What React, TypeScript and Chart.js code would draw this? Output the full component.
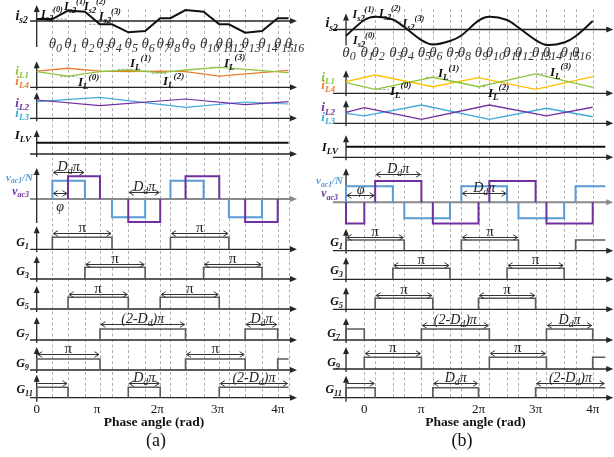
import React, { useEffect, useRef } from 'react';
import { Chart, registerables } from 'chart.js';

Chart.register(...registerables);

const W = 614;
const H = 457;
const SERIF = '"Liberation Serif", "Times New Roman", serif';

const BLACK = '#111111';
const AXIS = '#262626';
const GATE = '#5a5a5a';
const GRID = '#a8a8a8';
const GREEN = '#8cc63f';
const ORANGE = '#ed7d31';
const YELLOW = '#ffc000';
const PURPLE = '#7030a0';
const CYAN = '#41a9dc';
const BLUE = '#5b9bd5';

// θ instants of each panel, phase in units of π
const thetaA = [0.26, 0.52, 0.8, 1.05, 1.25, 1.52, 1.8, 2.05, 2.22, 2.47, 2.77, 3.03, 3.19, 3.46, 3.74, 4.0, 4.18];
const thetaB = [-0.32, 0, 0.19, 0.5, 0.7, 1.0, 1.2, 1.5, 1.7, 2.0, 2.19, 2.5, 2.7, 3.0, 3.19, 3.5, 3.7, 4.0];
const tA = (i: number) => thetaA[i];
const tB = (i: number) => thetaB[i];
const spanA = [0, 4.18];
const spanB = [-0.32, 4.22];

const thetaLabels = ['θ_{0}', 'θ_{1}', 'θ_{2}', 'θ_{3}', 'θ_{4}', 'θ_{5}', 'θ_{6}', 'θ_{7}', 'θ_{8}', 'θ_{9}', 'θ_{10}', 'θ_{11}', 'θ_{12}', 'θ_{13}', 'θ_{14}', 'θ_{15}', 'θ_{16}'];
const phaseTicks = [0, 1, 2, 3, 4];
const phaseTickLabels = ['0', 'π', '2π', '3π', '4π'];

// secondary current i_s2 — (a): origin then θ0…θ16, (b): θ0…θ17
const is2XA = [0, ...thetaA];
const is2A = [0.18, 0.18, 0.95, 0.85, -0.3, -0.3, -1.03, -0.91, 0.25, 0.25, 1.0, 0.85, -0.3, -0.3, -1.06, -0.91, 0.25, 0.25];
const is2B = [-0.48, 0.73, 0.98, 0.77, 0.19, -0.81, -1.15, -0.88, -0.46, 0.68, 0.98, 0.73, 0.15, -0.81, -1.19, -1.0, -0.52, 0.65];

// inductor currents
const iL14XA = [0, tA(1), tA(3), tA(5), tA(7), tA(9), tA(11), tA(16)];
const iL1A = [1.0, 0.72, 1.0, 1.11, 0.94, 1.11, 1.28, 0.94];
const iL4A = [1.04, 1.22, 1.04, 1.0, 1.04, 1.0, 0.72, 1.09];
const iL23XA = [0, tA(3), tA(9), tA(13), tA(16)];
const iL2A = [1.09, 0.75, 1.15, 0.81, 0.99];
const iL3A = [0.99, 1.24, 0.65, 0.97, 0.85];

const iL14XB = [tB(0), tB(2), tB(6), tB(9), tB(13), tB(17)];
const iL1B = [0.94, 0.35, 1.42, 0.58, 1.71, 0.53];
const iL4B = [1.03, 1.62, 0.58, 1.38, 0.35, 1.47];
const iL23XB = [tB(0), tB(1), tB(5), tB(10), tB(14), tB(17)];
const iL2B = [0.97, 1.38, 0.35, 1.62, 0.65, 1.42];
const iL3B = [0.88, 0.65, 1.62, 0.35, 1.33, 0.58];

const iLVA = [1, 1];
const iLVB = [1, 1];

// bridge voltages: [from, to, level]
type Pulse = [number, number, number];
type Span = [number, number];
const vac1A: Pulse[] = [[tA(0), tA(2), 1], [tA(4), tA(6), -1], [tA(8), tA(10), 1], [tA(12), tA(14), -1]];
const vac3A: Pulse[] = [[tA(1), tA(3), 1.25], [tA(5), tA(7), -1.25], [tA(9), tA(11), 1.25], [tA(13), tA(15), -1.25]];
const vac1B: Pulse[] = [[tB(0), tB(3), 1], [tB(4), tB(7), -1], [tB(8), tB(11), 1], [tB(12), tB(15), -1], [tB(16), spanB[1], 1]];
const vac3B: Pulse[] = [[tB(0), tB(1), -1.33], [tB(2), tB(5), 1.33], [tB(6), tB(9), -1.33], [tB(10), tB(13), 1.33], [tB(14), tB(17), -1.33]];

// gate signals: on-intervals
const g1A: Span[] = [[tA(0), tA(4)], [tA(8), tA(12)]];
const g3A: Span[] = [[tA(2), tA(6)], [tA(10), tA(14)]];
const g5A: Span[] = [[tA(1), tA(5)], [tA(7), tA(11)]];
const g7A: Span[] = [[tA(3), tA(9)], [tA(13), tA(15)]];
const g9A: Span[] = [[0, tA(3)], [tA(9), tA(13)], [tA(15), tA(16)]];
const g11A: Span[] = [[0, tA(1)], [tA(5), tA(7)], [tA(11), tA(16)]];
const g1B: Span[] = [[tB(0), tB(4)], [tB(8), tB(12)], [tB(16), spanB[1]]];
const g3B: Span[] = [[tB(3), tB(7)], [tB(11), tB(15)]];
const g5B: Span[] = [[tB(2), tB(6)], [tB(9), tB(13)]];
const g7B: Span[] = [[tB(0), tB(1)], [tB(5), tB(10)], [tB(14), tB(17)]];
const g9B: Span[] = [[tB(1), tB(5)], [tB(10), tB(14)], [tB(17), spanB[1]]];
const g11B: Span[] = [[tB(0), tB(2)], [tB(6), tB(9)], [tB(13), spanB[1]]];

interface RowLayout { id: string; base: number; unit: number; up: number; down: number; gray?: boolean }
const rowsA: RowLayout[] = [
  { id: 'is2', base: 21, unit: 11, up: 16, down: 26 },
  { id: 'iL14', base: 87.3, unit: 15.6, up: 26, down: 3 },
  { id: 'iL23', base: 118.3, unit: 16.8, up: 26, down: 3 },
  { id: 'ILV', base: 154, unit: 11.3, up: 24, down: 3 },
  { id: 'vac', base: 199, unit: 18.3, up: 31, down: 24, gray: true },
  { id: 'G1', base: 249.3, unit: 12, up: 23, down: 3 },
  { id: 'G3', base: 279, unit: 11.7, up: 23, down: 3 },
  { id: 'G5', base: 309, unit: 11.7, up: 23, down: 3 },
  { id: 'G7', base: 340, unit: 11, up: 23, down: 3 },
  { id: 'G9', base: 370, unit: 11, up: 23, down: 3 },
  { id: 'G11', base: 397.7, unit: 10.4, up: 23, down: 4 },
];
const rowsB: RowLayout[] = [
  { id: 'is2', base: 29.5, unit: 13, up: 16, down: 16 },
  { id: 'iL14', base: 93.3, unit: 11.3, up: 23, down: 3 },
  { id: 'iL23', base: 123.3, unit: 11.3, up: 23, down: 3 },
  { id: 'ILV', base: 157.3, unit: 10.5, up: 22, down: 3 },
  { id: 'vac', base: 202.3, unit: 16, up: 34, down: 22, gray: true },
  { id: 'G1', base: 250.7, unit: 10.7, up: 22, down: 3 },
  { id: 'G3', base: 279.3, unit: 11, up: 22, down: 3 },
  { id: 'G5', base: 309.3, unit: 11, up: 22, down: 3 },
  { id: 'G7', base: 340, unit: 11, up: 22, down: 3 },
  { id: 'G9', base: 369, unit: 11.7, up: 22, down: 3 },
  { id: 'G11', base: 397.7, unit: 10, up: 22, down: 4 },
];

interface TextItem { s: string; x: number; y: number; size: number; color?: string }
interface Dim { row: string; from: number; to: number; y: number; s: string; below?: boolean; single?: boolean }
interface Marker { row: string; from: number; to: number; y: number }

const rowLabelsA: TextItem[] = [
  { s: 'i_{s2}', x: 28, y: 19.5, size: 14 },
  { s: 'i_{L1}', x: 29, y: 75, size: 13, color: GREEN },
  { s: 'i_{L4}', x: 29, y: 84.5, size: 13, color: ORANGE },
  { s: 'i_{L2}', x: 29, y: 106.5, size: 13, color: PURPLE },
  { s: 'i_{L3}', x: 29, y: 117, size: 13, color: CYAN },
  { s: 'I_{LV}', x: 31, y: 139, size: 13 },
  { s: 'v_{ac1}/N', x: 33, y: 180.5, size: 11, color: BLUE },
  { s: 'v_{ac3}', x: 29, y: 194.5, size: 11.5, color: PURPLE },
  { s: 'G_{1}', x: 29, y: 245.5, size: 12 },
  { s: 'G_{3}', x: 29, y: 274.5, size: 12 },
  { s: 'G_{5}', x: 29, y: 306, size: 12 },
  { s: 'G_{7}', x: 29, y: 337, size: 12 },
  { s: 'G_{9}', x: 29, y: 367, size: 12 },
  { s: 'G_{11}', x: 33, y: 393, size: 12 },
];
const rowLabelsB: TextItem[] = [
  { s: 'i_{s2}', x: 338, y: 27.3, size: 14 },
  { s: 'i_{L1}', x: 335, y: 80.7, size: 13, color: GREEN },
  { s: 'i_{L4}', x: 335, y: 89, size: 13, color: ORANGE },
  { s: 'i_{L2}', x: 335, y: 111.3, size: 13, color: PURPLE },
  { s: 'i_{L3}', x: 335, y: 120.7, size: 13, color: CYAN },
  { s: 'I_{LV}', x: 338, y: 150.7, size: 13 },
  { s: 'v_{ac1}/N', x: 343, y: 184, size: 11, color: BLUE },
  { s: 'v_{ac3}', x: 338, y: 197.3, size: 11.5, color: PURPLE },
  { s: 'G_{1}', x: 343, y: 245.7, size: 12 },
  { s: 'G_{3}', x: 343, y: 274, size: 12 },
  { s: 'G_{5}', x: 343, y: 305, size: 12 },
  { s: 'G_{7}', x: 340, y: 337.3, size: 12 },
  { s: 'G_{9}', x: 340, y: 365.7, size: 12 },
  { s: 'G_{11}', x: 342, y: 393.3, size: 12 },
];

const levelLabelsA: TextItem[] = [
  { s: 'I_{s2}^{(0)}', x: 41, y: 17.5, size: 12 },
  { s: 'I_{s2}^{(1)}', x: 64, y: 10, size: 12 },
  { s: 'I_{s2}^{(2)}', x: 84, y: 10, size: 12 },
  { s: 'I_{s2}^{(3)}', x: 99, y: 19.5, size: 12 },
  { s: 'I_{L}^{(0)}', x: 78, y: 86, size: 13 },
  { s: 'I_{L}^{(1)}', x: 130, y: 67, size: 13 },
  { s: 'I_{L}^{(2)}', x: 163, y: 85, size: 13 },
  { s: 'I_{L}^{(3)}', x: 224, y: 66.5, size: 13 },
];
const levelLabelsB: TextItem[] = [
  { s: 'I_{s2}^{(1)}', x: 352.5, y: 18, size: 12 },
  { s: 'I_{s2}^{(2)}', x: 379, y: 16.5, size: 12 },
  { s: 'I_{s2}^{(3)}', x: 402.5, y: 26.5, size: 12 },
  { s: 'I_{s2}^{(0)}', x: 353, y: 44, size: 12 },
  { s: 'I_{L}^{(1)}', x: 438, y: 77, size: 13 },
  { s: 'I_{L}^{(0)}', x: 390, y: 94.5, size: 13 },
  { s: 'I_{L}^{(2)}', x: 488, y: 96.5, size: 13 },
  { s: 'I_{L}^{(3)}', x: 550, y: 75.5, size: 13 },
];

const dimsA: Dim[] = [
  { row: 'vac', from: tA(0), to: tA(2), y: 1.49, s: 'D_{d}π' },
  { row: 'vac', from: tA(0), to: tA(1), y: 0.31, s: 'φ', below: true },
  { row: 'vac', from: tA(5), to: tA(7), y: 0.37, s: 'D_{d}π' },
  { row: 'G1', from: tA(0), to: tA(4), y: 1.38, s: 'π' },
  { row: 'G1', from: tA(8), to: tA(12), y: 1.38, s: 'π' },
  { row: 'G3', from: tA(2), to: tA(6), y: 1.31, s: 'π' },
  { row: 'G3', from: tA(10), to: tA(14), y: 1.31, s: 'π' },
  { row: 'G5', from: tA(1), to: tA(5), y: 1.28, s: 'π' },
  { row: 'G5', from: tA(7), to: tA(11), y: 1.28, s: 'π' },
  { row: 'G7', from: tA(3), to: tA(9), y: 1.45, s: '(2-D_{d})π' },
  { row: 'G7', from: tA(13), to: tA(15), y: 1.45, s: 'D_{d}π' },
  { row: 'G9', from: 0, to: tA(3), y: 1.45, s: 'π' },
  { row: 'G9', from: tA(9), to: tA(13), y: 1.45, s: 'π' },
  { row: 'G11', from: 0, to: tA(1), y: 1.38, s: '', single: true },
  { row: 'G11', from: tA(5), to: tA(7), y: 1.38, s: 'D_{d}π' },
  { row: 'G11', from: tA(11), to: tA(16), y: 1.38, s: '(2-D_{d})π' },
];
const dimsB: Dim[] = [
  { row: 'vac', from: tB(2), to: tB(5), y: 1.77, s: 'D_{d}π' },
  { row: 'vac', from: tB(0), to: tB(2), y: 0.46, s: 'φ' },
  { row: 'vac', from: tB(8), to: tB(11), y: 0.56, s: 'D_{d}π' },
  { row: 'G1', from: tB(0), to: tB(4), y: 1.31, s: 'π' },
  { row: 'G1', from: tB(8), to: tB(12), y: 1.31, s: 'π' },
  { row: 'G3', from: tB(3), to: tB(7), y: 1.3, s: 'π' },
  { row: 'G3', from: tB(11), to: tB(15), y: 1.3, s: 'π' },
  { row: 'G5', from: tB(2), to: tB(6), y: 1.27, s: 'π' },
  { row: 'G5', from: tB(9), to: tB(13), y: 1.27, s: 'π' },
  { row: 'G7', from: tB(5), to: tB(10), y: 1.36, s: '(2-D_{d})π' },
  { row: 'G7', from: tB(14), to: tB(17), y: 1.36, s: 'D_{d}π' },
  { row: 'G9', from: tB(1), to: tB(5), y: 1.39, s: 'π' },
  { row: 'G9', from: tB(10), to: tB(14), y: 1.39, s: 'π' },
  { row: 'G11', from: tB(0), to: tB(2), y: 1.44, s: '', single: true },
  { row: 'G11', from: tB(6), to: tB(9), y: 1.44, s: 'D_{d}π' },
  { row: 'G11', from: tB(13), to: spanB[1], y: 1.44, s: '(2-D_{d})π' },
];

// short dashed reference levels next to the named current values
const markersA: Marker[] = [
  { row: 'is2', from: tA(0), to: tA(1), y: 0.18 },
  { row: 'is2', from: tA(3) - 0.18, to: tA(3), y: -0.3 },
  { row: 'iL14', from: 0.39, to: 0.67, y: 0.68 },
  { row: 'iL14', from: 1.35, to: 1.6, y: 1.15 },
  { row: 'iL14', from: 1.91, to: 2.16, y: 0.9 },
  { row: 'iL14', from: 2.88, to: 3.16, y: 1.28 },
];
const markersB: Marker[] = [
  { row: 'is2', from: 0.54, to: 0.66, y: 0.58 },
  { row: 'iL14', from: 0.19, to: 0.43, y: 0.35 },
  { row: 'iL14', from: 1.08, to: 1.27, y: 1.42 },
  { row: 'iL14', from: 2.0, to: 2.15, y: 0.58 },
  { row: 'iL14', from: 3.02, to: 3.23, y: 1.71 },
];

interface Panel {
  key: string; origin: number; perPi: number; rows: RowLayout[]; yAxisAt: number; axisFrom: number; axisTo: number;
  grid: number[]; thetaAt: number[]; thetaBase: number; titleX: number; captionX: number; caption: string;
  labels: TextItem[]; levels: TextItem[]; dims: Dim[]; markers: Marker[];
}
const panels: Panel[] = [
  {
    key: 'a', origin: 36.7, perPi: 60.25, rows: rowsA, yAxisAt: 0, axisFrom: -0.11, axisTo: 4.32,
    grid: thetaA, thetaAt: thetaA, thetaBase: 48, titleX: 154, captionX: 156, caption: '(a)',
    labels: rowLabelsA, levels: levelLabelsA, dims: dimsA, markers: markersA,
  },
  {
    key: 'b', origin: 364.3, perPi: 57.1, rows: rowsB, yAxisAt: tB(0), axisFrom: -0.55, axisTo: 4.36,
    grid: thetaB.slice(1), thetaAt: thetaB.slice(0, 17), thetaBase: 56.5, titleX: 475.5, captionX: 462, caption: '(b)',
    labels: rowLabelsB, levels: levelLabelsB, dims: dimsB, markers: markersB,
  },
];

type Piece = { t: string; k: number };
function parseRich(s: string): Piece[] {
  const out: Piece[] = [];
  const re = /_\{([^}]*)\}|\^\{([^}]*)\}|([^_^]+)/g;
  let m: RegExpExecArray | null;
  while ((m = re.exec(s))) {
    if (m[1] !== undefined) out.push({ t: m[1], k: 1 });
    else if (m[2] !== undefined) out.push({ t: m[2], k: 2 });
    else out.push({ t: m[3], k: 0 });
  }
  return out;
}

function drawRich(ctx: CanvasRenderingContext2D, s: string, x: number, y: number,
  o: { size: number; color?: string; style?: string; align?: string; ratio?: number }) {
  const size = o.size;
  const style = o.style ?? 'bold italic';
  const ratio = o.ratio ?? 0.68;
  const pieces = parseRich(s);
  const font = (k: number) => `${style} ${k ? (size * ratio).toFixed(1) : size}px ${SERIF}`;
  const widths = pieces.map((p) => { ctx.font = font(p.k); return ctx.measureText(p.t).width; });
  const total = widths.reduce((a, b) => a + b, 0);
  let cx = x;
  if (o.align === 'right') cx = x - total;
  else if (o.align === 'center') cx = x - total / 2;
  else if (o.align === 'first') cx = x - (widths[0] ?? 0) / 2;
  ctx.fillStyle = o.color ?? BLACK;
  ctx.textAlign = 'left';
  ctx.textBaseline = 'alphabetic';
  pieces.forEach((p, i) => {
    ctx.font = font(p.k);
    const dy = p.k === 1 ? size * 0.26 : p.k === 2 ? -size * 0.5 : 0;
    ctx.fillText(p.t, cx, y + dy);
    cx += widths[i];
  });
}

function seg(ctx: CanvasRenderingContext2D, x1: number, y1: number, x2: number, y2: number) {
  ctx.beginPath();
  ctx.moveTo(x1, y1);
  ctx.lineTo(x2, y2);
  ctx.stroke();
}

function solidHead(ctx: CanvasRenderingContext2D, x: number, y: number, dir: string) {
  ctx.beginPath();
  if (dir === 'r') { ctx.moveTo(x, y); ctx.lineTo(x - 7, y - 3); ctx.lineTo(x - 7, y + 3); }
  else { ctx.moveTo(x, y); ctx.lineTo(x - 3, y + 7); ctx.lineTo(x + 3, y + 7); }
  ctx.closePath();
  ctx.fill();
}

function openHead(ctx: CanvasRenderingContext2D, x: number, y: number, dir: number) {
  ctx.beginPath();
  ctx.moveTo(x - dir * 4.5, y - 2.8);
  ctx.lineTo(x, y);
  ctx.lineTo(x - dir * 4.5, y + 2.8);
  ctx.stroke();
}

function curve(xs: number[], ys: number[]) {
  return xs.map((x, i) => ({ x, y: ys[i] }));
}

function steps(span: number[], list: Pulse[]) {
  const [start, end] = span;
  const pts = [{ x: start, y: 0 }];
  let open = false;
  for (const [a, b, v] of list) {
    pts.push({ x: a, y: 0 }, { x: a, y: v }, { x: b, y: v });
    if (b >= end) { open = true; break; }
    pts.push({ x: b, y: 0 });
  }
  if (!open) pts.push({ x: end, y: 0 });
  return pts;
}

const gate = (spans: Span[]): Pulse[] => spans.map(([f, t]) => [f, t, 1] as Pulse);

const hideZero = {
  borderColor: (c: any) => (c.p0.parsed.y === 0 && c.p1.parsed.y === 0 ? 'rgba(0,0,0,0)' : undefined),
};

function buildDatasets() {
  const out: any[] = [];
  const add = (col: string, row: string, data: any[], color: string, width: number, extra: any = {}) => {
    out.push({
      data, xAxisID: 'x' + col, yAxisID: 'y' + col + '_' + row, borderColor: color, borderWidth: width,
      pointRadius: 0, fill: false, tension: 0, borderCapStyle: 'butt', borderJoinStyle: 'miter', ...extra,
    });
  };
  const pulse = { segment: hideZero };

  add('a', 'is2', curve(is2XA, is2A), BLACK, 2);
  add('a', 'iL14', curve(iL14XA, iL1A), GREEN, 1.3);
  add('a', 'iL14', curve(iL14XA, iL4A), ORANGE, 1.3);
  add('a', 'iL23', curve(iL23XA, iL2A), PURPLE, 1.2);
  add('a', 'iL23', curve(iL23XA, iL3A), CYAN, 1.2);
  add('a', 'ILV', curve(spanA, iLVA), BLACK, 2);
  add('a', 'vac', steps(spanA, vac3A), PURPLE, 2, pulse);
  add('a', 'vac', steps(spanA, vac1A), BLUE, 2, pulse);
  add('a', 'G1', steps(spanA, gate(g1A)), GATE, 1.6, pulse);
  add('a', 'G3', steps(spanA, gate(g3A)), GATE, 1.6, pulse);
  add('a', 'G5', steps(spanA, gate(g5A)), GATE, 1.6, pulse);
  add('a', 'G7', steps(spanA, gate(g7A)), GATE, 1.6, pulse);
  add('a', 'G9', steps(spanA, gate(g9A)), GATE, 1.6, pulse);
  add('a', 'G11', steps(spanA, gate(g11A)), GATE, 1.6, pulse);

  add('b', 'is2', curve(thetaB, is2B), BLACK, 2, { tension: 0.3 });
  add('b', 'iL14', curve(iL14XB, iL1B), GREEN, 1.3);
  add('b', 'iL14', curve(iL14XB, iL4B), YELLOW, 1.3);
  add('b', 'iL23', curve(iL23XB, iL2B), PURPLE, 1.3);
  add('b', 'iL23', curve(iL23XB, iL3B), CYAN, 1.3);
  add('b', 'ILV', curve(spanB, iLVB), BLACK, 2);
  add('b', 'vac', steps(spanB, vac3B), PURPLE, 2, pulse);
  add('b', 'vac', steps(spanB, vac1B), BLUE, 2, pulse);
  add('b', 'G1', steps(spanB, gate(g1B)), GATE, 1.6, pulse);
  add('b', 'G3', steps(spanB, gate(g3B)), GATE, 1.6, pulse);
  add('b', 'G5', steps(spanB, gate(g5B)), GATE, 1.6, pulse);
  add('b', 'G7', steps(spanB, gate(g7B)), GATE, 1.6, pulse);
  add('b', 'G9', steps(spanB, gate(g9B)), GATE, 1.6, pulse);
  add('b', 'G11', steps(spanB, gate(g11B)), GATE, 1.6, pulse);
  return out;
}

function buildScales() {
  const scales: any = {};
  for (const p of panels) {
    scales['x' + p.key] = {
      type: 'linear', axis: 'x', position: 'bottom', display: false,
      min: -p.origin / p.perPi, max: (W - p.origin) / p.perPi,
    };
    for (const r of p.rows) {
      scales['y' + p.key + '_' + r.id] = {
        type: 'linear', axis: 'y', position: 'left', display: false,
        min: -(H - r.base) / r.unit, max: r.base / r.unit,
      };
    }
  }
  return scales;
}

const decorPlugin = {
  id: 'timingDecor',
  beforeDraw(chart: any) {
    const ctx = chart.ctx;
    ctx.save();
    ctx.fillStyle = '#ffffff';
    ctx.fillRect(0, 0, W, H);
    ctx.restore();
  },
  beforeDatasetsDraw(chart: any) {
    const ctx: CanvasRenderingContext2D = chart.ctx;
    for (const p of panels) {
      const X = chart.scales['x' + p.key];
      ctx.save();
      // θ grid
      ctx.strokeStyle = GRID;
      ctx.lineWidth = 0.9;
      ctx.setLineDash([3, 2.5]);
      for (const t of p.grid) {
        const x = Math.round(X.getPixelForValue(t)) + 0.5;
        seg(ctx, x, 9, x, 398);
      }
      // reference level dashes
      ctx.strokeStyle = '#9a9a9a';
      ctx.lineWidth = 1;
      ctx.setLineDash([2.5, 1.5]);
      for (const m of p.markers) {
        const Y = chart.scales['y' + p.key + '_' + m.row];
        const y = Y.getPixelForValue(m.y);
        seg(ctx, X.getPixelForValue(m.from), y, X.getPixelForValue(m.to), y);
      }
      ctx.setLineDash([]);
      // axes of every row
      const xa = X.getPixelForValue(p.yAxisAt);
      for (const r of p.rows) {
        const Y = chart.scales['y' + p.key + '_' + r.id];
        const y0 = Y.getPixelForValue(0);
        const color = r.gray ? '#8a8a8a' : AXIS;
        ctx.strokeStyle = color;
        ctx.fillStyle = color;
        ctx.lineWidth = r.gray ? 2 : 1.3;
        const x1 = X.getPixelForValue(p.axisFrom);
        const x2 = X.getPixelForValue(p.axisTo);
        seg(ctx, x1, y0, x2 - 5, y0);
        solidHead(ctx, x2, y0, 'r');
        ctx.strokeStyle = AXIS;
        ctx.fillStyle = AXIS;
        ctx.lineWidth = 1.3;
        seg(ctx, xa, y0 + r.down, xa, y0 - r.up + 5);
        solidHead(ctx, xa, y0 - r.up, 'u');
      }
      ctx.restore();
    }
  },
  afterDatasetsDraw(chart: any) {
    const ctx: CanvasRenderingContext2D = chart.ctx;
    for (const p of panels) {
      const X = chart.scales['x' + p.key];
      ctx.save();
      // dimension arrows
      ctx.strokeStyle = '#333333';
      ctx.lineWidth = 1;
      for (const d of p.dims) {
        const Y = chart.scales['y' + p.key + '_' + d.row];
        const y = Math.round(Y.getPixelForValue(d.y)) + 0.5;
        const x1 = X.getPixelForValue(d.from) + 1;
        const x2 = X.getPixelForValue(d.to) - 1;
        seg(ctx, x1, y, x2, y);
        openHead(ctx, x2, y, 1);
        if (!d.single) openHead(ctx, x1, y, -1);
        if (d.s) {
          const up = d.s === 'π';
          drawRich(ctx, d.s, (x1 + x2) / 2, d.below ? y + 17 : y - 2, {
            size: up ? 15 : 14, style: up ? 'normal' : 'italic', align: 'center', color: '#222', ratio: 0.7,
          });
        }
      }
      // θ instants
      p.thetaAt.forEach((t, i) => {
        drawRich(ctx, thetaLabels[i], X.getPixelForValue(t), p.thetaBase, {
          size: 15, style: 'italic', align: 'first', color: '#333', ratio: 0.8,
        });
      });
      // row names and current levels
      for (const l of p.labels) drawRich(ctx, l.s, l.x, l.y, { size: l.size, color: l.color, align: 'right', ratio: 0.7 });
      for (const l of p.levels) drawRich(ctx, l.s, l.x, l.y, { size: l.size, color: l.color, align: 'left', ratio: 0.7 });
      // phase axis
      phaseTicks.forEach((v, i) => {
        drawRich(ctx, phaseTickLabels[i], X.getPixelForValue(v), 412.5, { size: 13, style: 'normal', align: 'center' });
      });
      drawRich(ctx, 'Phase angle (rad)', p.titleX, 425.5, { size: 13.5, style: 'bold', align: 'center' });
      drawRich(ctx, p.caption, p.captionX, 446, { size: 18, style: 'normal', align: 'center' });
      ctx.restore();
    }
  },
};

export default function App() {
  const ref = useRef<HTMLCanvasElement>(null);
  useEffect(() => {
    if (!ref.current) return;
    const chart = new Chart(ref.current, {
      type: 'line',
      data: { datasets: buildDatasets() },
      options: {
        responsive: false,
        maintainAspectRatio: false,
        animation: false,
        devicePixelRatio: 1,
        events: [],
        layout: { padding: 0 },
        plugins: { legend: { display: false }, tooltip: { enabled: false } },
        scales: buildScales(),
      },
      plugins: [decorPlugin],
    } as any);
    return () => chart.destroy();
  }, []);
  return (
    <div style={{ position: 'fixed', left: 0, top: 0, width: W, height: H, background: '#fff' }}>
      <canvas ref={ref} width={W} height={H} style={{ width: W, height: H, display: 'block' }} />
    </div>
  );
}
